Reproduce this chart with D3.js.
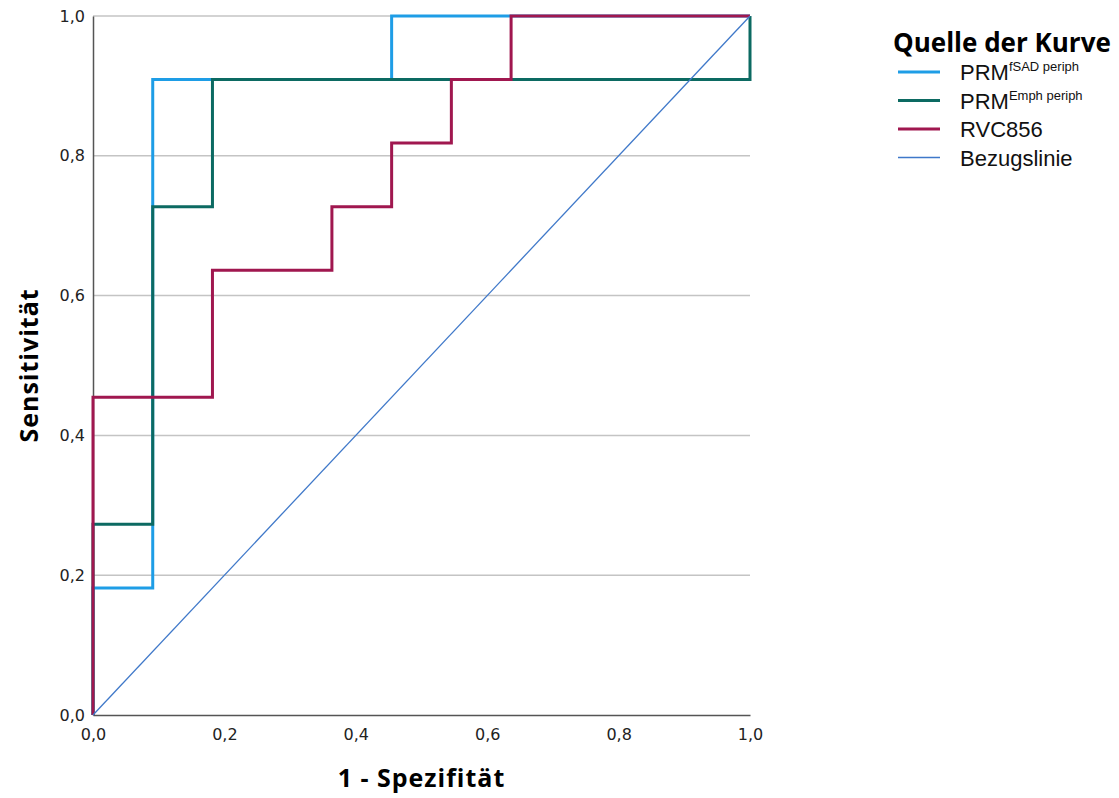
<!DOCTYPE html>
<html>
<head>
<meta charset="utf-8">
<script src="https://cdn.jsdelivr.net/npm/d3@7"></script>
<style>
  body { margin: 0; background: #fff; }
  svg { display: block; }
</style>
</head>
<body>
<svg id="roc" width="1119" height="798"></svg>
<script>
// ROC curves, 11 positives / 11 negatives -> steps of 1/11
let n = 11;
let fsadX = [0, 0, 1, 1, 5, 5, 11];
let fsadY = [0, 2, 2, 10, 10, 11, 11];
let emphX = [0, 0, 1, 1, 2, 2, 11, 11];
let emphY = [0, 3, 3, 8, 8, 10, 10, 11];
let rvcX = [0, 0, 2, 2, 4, 4, 5, 5, 6, 6, 7, 7, 11];
let rvcY = [0, 5, 5, 7, 7, 8, 8, 9, 9, 10, 10, 11, 11];
let refX = [0, 11];
let refY = [0, 11];

let ticks = [0, 0.2, 0.4, 0.6, 0.8, 1.0];
let tickLabels = ["0,0", "0,2", "0,4", "0,6", "0,8", "1,0"];

let series = [
  { name: "PRM", sup: "fSAD periph", xs: fsadX, ys: fsadY, color: "#1e9de6", width: 3 },
  { name: "PRM", sup: "Emph periph", xs: emphX, ys: emphY, color: "#0c6a62", width: 3 },
  { name: "RVC856", sup: null, xs: rvcX, ys: rvcY, color: "#a0174f", width: 3 },
  { name: "Bezugslinie", sup: null, xs: refX, ys: refY, color: "#3f78c9", width: 1.3 }
];

let svg = d3.select("#roc");

let x = d3.scaleLinear().domain([0, 1]).range([93, 750]);
let y = d3.scaleLinear().domain([0, 1]).range([715, 16]);

// gridlines
svg.append("g")
  .selectAll("line")
  .data(ticks.filter(d => d > 0))
  .enter().append("line")
  .attr("x1", x(0)).attr("x2", x(1))
  .attr("y1", d => y(d)).attr("y2", d => y(d))
  .attr("stroke", "#c4c4c4")
  .attr("stroke-width", 1.5);

// axes
let xAxis = d3.axisBottom(x).tickValues(ticks).tickSize(0).tickPadding(14)
  .tickFormat((d, i) => tickLabels[i]);
let yAxis = d3.axisLeft(y).tickValues(ticks).tickSize(0).tickPadding(8)
  .tickFormat((d, i) => tickLabels[i]);

let gx = svg.append("g").attr("transform", "translate(0," + y(0) + ")").call(xAxis);
let gy = svg.append("g").attr("transform", "translate(" + x(0) + ",0)").call(yAxis);

[gx, gy].forEach(g => {
  g.select(".domain").attr("stroke", "#555").attr("stroke-width", 1.5);
  g.selectAll("text")
    .attr("fill", "#222")
    .style("font-family", "DejaVu Sans, sans-serif")
    .style("font-size", "16px");
});

// curves
let line = d3.line().x(d => x(d[0])).y(d => y(d[1]));

svg.append("g")
  .selectAll("path")
  .data(series)
  .enter().append("path")
  .attr("d", s => line(s.xs.map((v, i) => [v / n, s.ys[i] / n])))
  .attr("fill", "none")
  .attr("stroke", s => s.color)
  .attr("stroke-width", s => s.width)
  .attr("stroke-linejoin", "miter");

// axis titles
svg.append("text")
  .attr("x", x(0.5)).attr("y", 787)
  .attr("text-anchor", "middle")
  .style("font-family", "Open Sans, sans-serif")
  .style("font-weight", "bold")
  .style("font-size", "25px")
  .style("letter-spacing", "1px")
  .text("1 - Spezifität");

svg.append("text")
  .attr("transform", "translate(38," + y(0.5) + ") rotate(-90)")
  .attr("text-anchor", "middle")
  .style("font-family", "Open Sans, sans-serif")
  .style("font-weight", "bold")
  .style("font-size", "25px")
  .style("letter-spacing", "1px")
  .text("Sensitivität");

// legend
let legend = svg.append("g");
legend.append("text")
  .attr("x", 893).attr("y", 52)
  .style("font-family", "Open Sans, sans-serif")
  .style("font-weight", "bold")
  .style("font-size", "26px")
  .text("Quelle der Kurve");

let item = legend.selectAll("g.item")
  .data(series)
  .enter().append("g")
  .attr("class", "item")
  .attr("transform", (d, i) => "translate(0," + (72 + i * 28.5) + ")");

item.append("line")
  .attr("x1", 898).attr("x2", 940)
  .attr("stroke", d => d.color)
  .attr("stroke-width", d => d.width);

let label = item.append("text")
  .attr("x", 960).attr("y", 8)
  .style("font-family", "Liberation Sans, Arial, sans-serif")
  .style("font-size", "22px")
  .attr("fill", "#111");
label.append("tspan").text(d => d.name);
label.filter(d => d.sup)
  .append("tspan")
  .attr("dy", -9)
  .style("font-size", "13px")
  .text(d => d.sup);
</script>
</body>
</html>
